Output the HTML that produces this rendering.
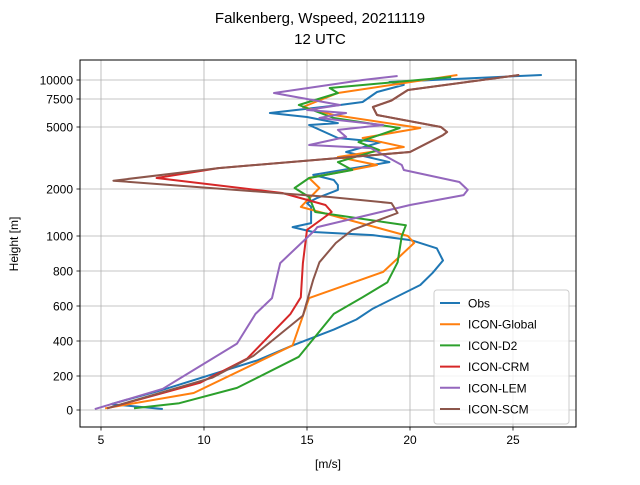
<!DOCTYPE html>
<html><head><meta charset="utf-8"><style>
body{margin:0;background:#fff;font-family:"Liberation Sans",sans-serif}
svg text{font-family:"Liberation Sans",sans-serif;fill:#000}
</style></head><body>
<svg id="c" width="640" height="480" xmlns="http://www.w3.org/2000/svg">
<text x="320" y="23" font-size="15" text-anchor="middle">Falkenberg, Wspeed, 20211119</text>
<text x="320" y="44" font-size="15" text-anchor="middle">12 UTC</text>
<g id="grid"></g><g id="series"></g>
<rect x="80" y="60" width="496" height="367" fill="none" stroke="#000" stroke-width="1"/>
<g id="axes"></g>
<text x="328" y="468" font-size="12" text-anchor="middle">[m/s]</text>
<text x="18" y="244" font-size="12" text-anchor="middle" transform="rotate(-90 18 244)">Height [m]</text>
<g id="legend"></g>
</svg>
<script>
const xTicks=[5,10,15,20,25];
const yTicks=[0,200,400,600,800,1000,2000,5000,7500,10000];
const yTickLabels=["0","200","400","600","800","1000","2000","5000","7500","10000"];
const seriesNames=["Obs","ICON-Global","ICON-D2","ICON-CRM","ICON-LEM","ICON-SCM"];
const colors=["#1f77b4","#ff7f0e","#2ca02c","#d62728","#9467bd","#8c564b"];
const obsSpeed=[8.0,5.5,7.9,12.6,14.3,16.3,17.4,18.2,20.5,21.1,21.6,21.3,20.1,18.2,15.3,14.3,15.2,15.2,15.0,15.5,16.5,16.5,16.3,15.3,19.0,16.9,18.6,16.5,15.1,16.5,15.0,13.2,16.6,17.7,18.4,19.7,19.0,26.4];
const obsHeight=[6,35,115,290,375,465,523,585,720,790,860,930,975,1020,1085,1190,1275,1620,1700,1810,1980,2190,2435,2680,3300,3790,4270,4470,5180,5350,5890,6250,6960,7230,8420,9350,9740,10660];
const globalSpeed=[5.2,9.5,14.3,15.1,18.7,20.2,19.9,14.7,15.6,15.1,18.4,16.5,19.7,17.7,20.5,16.3,14.8,16.5,22.3];
const globalHeight=[10,100,375,645,795,960,1000,1620,2050,2530,3160,3550,4030,4470,4950,6070,6790,8290,10660];
const d2Speed=[6.6,8.8,11.6,14.6,16.3,17.7,18.9,19.4,19.6,19.8,15.4,15.1,14.4,15.1,17.2,16.5,18.5,17.5,19.5,16.3,14.6,16.5,16.1,22.0];
const d2Height=[10,40,130,310,555,650,735,850,1000,1230,1510,1830,2050,2530,2920,3300,3890,4270,4950,5800,6960,8290,8950,10400];
const crmSpeed=[5.3,9.8,12.1,14.2,14.7,14.8,15.0,16.2,15.9,13.8,7.7,10.7,20.0,21.6,21.8,21.5,18.4,18.2,19.1,19.9,25.3];
const crmHeight=[10,160,300,555,650,845,1130,1510,1660,1915,2530,3010,3790,4610,4760,5000,6070,6790,7370,8690,10660];
const lemSpeed=[4.7,8.0,11.6,12.5,13.3,13.7,15.4,15.5,20.0,22.6,22.8,22.4,19.7,19.6,18.1,15.1,16.9,16.5,18.7,15.6,16.9,15.0,16.6,13.4,17.7,19.4];
const lemHeight=[5,125,385,555,645,845,1130,1190,1660,1870,1980,2340,2920,3160,3980,4130,4520,4860,5180,5800,6250,6520,6960,8290,10000,10530];
const scmSpeed=[5.3,10.4,12.4,14.8,15.3,15.6,16.4,17.2,19.4,19.1,16.1,5.6,10.7,20.0,21.6,21.8,21.5,18.4,18.2,19.1,19.9,25.3];
const scmHeight=[10,190,315,545,750,850,960,1130,1490,1700,1830,2400,3010,3790,4610,4760,5000,6070,6790,7370,8690,10660];
const allSpeed=[obsSpeed,globalSpeed,d2Speed,crmSpeed,lemSpeed,scmSpeed];
const allHeight=[obsHeight,globalHeight,d2Height,crmHeight,lemHeight,scmHeight];
const NS="http://www.w3.org/2000/svg";
const tickPix=[410,376,341,306,271,236,189,127,99,80];
function xs(v){return 101+(v-5)*20.6;}
function ys(h){
  let i=0;while(i<yTicks.length-2&&h>yTicks[i+1])i++;
  const h0=yTicks[i],h1=yTicks[i+1],p0=tickPix[i],p1=tickPix[i+1];
  return p0+(h-h0)/(h1-h0)*(p1-p0);
}
function mk(t,a,parent){const e=document.createElementNS(NS,t);for(const k in a)e.setAttribute(k,a[k]);parent.appendChild(e);return e;}
const grid=document.getElementById('grid'),axes=document.getElementById('axes');
xTicks.forEach(v=>{const x=xs(v);
  const g=mk('line',{x1:x,x2:x,y1:60,y2:427,stroke:'#b0b0b0','stroke-width':0.8},grid);
  
  
  mk('line',{x1:x,x2:x,y1:427,y2:430.5,stroke:'#000','stroke-width':0.8},axes);
  const t=mk('text',{x:x,y:444,'font-size':12,'text-anchor':'middle'},axes);t.textContent=v;
  
  
});
yTicks.forEach((v,i)=>{const y=ys(v);
  const g=mk('line',{x1:80,x2:576,y1:y,y2:y,stroke:'#b0b0b0','stroke-width':0.8},grid);
  
  
  mk('line',{x1:76.5,x2:80,y1:y,y2:y,stroke:'#000','stroke-width':0.8},axes);
  const t=mk('text',{x:73,y:y+4.5,'font-size':12,'text-anchor':'end'},axes);t.textContent=yTickLabels[i];
  
  
});
const sg=document.getElementById('series');
allSpeed.forEach((sp,k)=>{
  const pts=sp.map((s,j)=>xs(s).toFixed(1)+','+ys(allHeight[k][j]).toFixed(1)).join(' ');
  const p=mk('polyline',{points:pts,fill:'none',stroke:colors[k],'stroke-width':2,'stroke-linejoin':'round'},sg);
  
  
});
const lg=document.getElementById('legend');
const box=mk('rect',{x:434,y:290,width:135,height:134,rx:3,fill:'#fff','fill-opacity':0.8,stroke:'#ccc'},lg);


seriesNames.forEach((n,i)=>{const y=303+i*21.2;
  const l=mk('line',{x1:440,x2:460,y1:y,y2:y,stroke:colors[i],'stroke-width':2},lg);
  
  
  const t=mk('text',{x:468,y:y+4.5,'font-size':12},lg);t.textContent=n;
  
  
});
</script>
</body></html>
